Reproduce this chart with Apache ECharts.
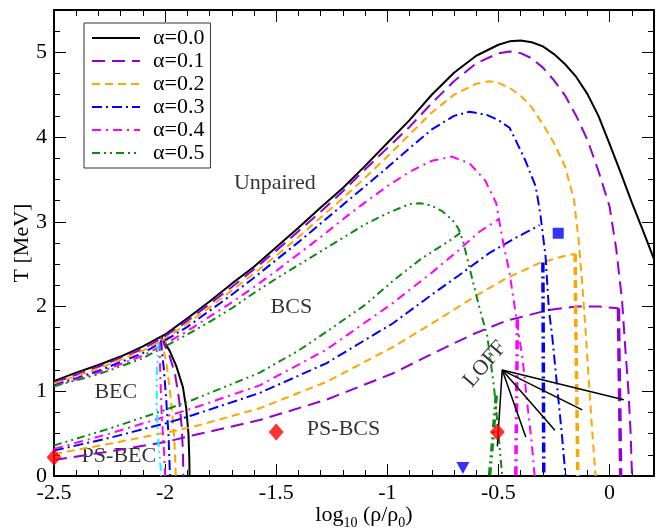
<!DOCTYPE html>
<html>
<head>
<meta charset="utf-8">
<script src="https://cdn.jsdelivr.net/npm/echarts@6/dist/echarts.min.js"></script>
<style>
  html, body { margin: 0; padding: 0; background: #fff; }
  #chart { width: 657px; height: 531px; }
</style>
</head>
<body>
<div id="chart"></div>
<script>
// legend names
const names = ['α=0.0', 'α=0.1', 'α=0.2', 'α=0.3', 'α=0.4', 'α=0.5'];

// critical temperature curves [log10(rho/rho0), T]
const tc00 = [[-2.5,1.12],[-2.4,1.22],[-2.3,1.31],[-2.2,1.41],[-2.1,1.53],[-2.0,1.67],[-1.9,1.86],[-1.8,2.06],[-1.7,2.27],[-1.6,2.47],[-1.5,2.70],[-1.4,2.93],[-1.3,3.17],[-1.2,3.40],[-1.1,3.66],[-1.0,3.93],[-0.9,4.20],[-0.8,4.50],[-0.7,4.76],[-0.6,4.96],[-0.5,5.09],[-0.45,5.13],[-0.4,5.14],[-0.35,5.12],[-0.3,5.07],[-0.25,4.98],[-0.2,4.86],[-0.15,4.71],[-0.1,4.51],[-0.05,4.25],[0.0,3.92],[0.05,3.58],[0.1,3.23],[0.15,2.9],[0.2,2.56]];
const tc01 = [[-2.5,1.10],[-2.3,1.29],[-2.1,1.50],[-2.0,1.65],[-1.9,1.83],[-1.8,2.03],[-1.7,2.23],[-1.6,2.44],[-1.5,2.66],[-1.4,2.89],[-1.3,3.12],[-1.2,3.36],[-1.1,3.62],[-1.0,3.87],[-0.9,4.12],[-0.8,4.40],[-0.7,4.66],[-0.6,4.87],[-0.5,4.99],[-0.45,5.01],[-0.4,4.99],[-0.35,4.93],[-0.3,4.82],[-0.25,4.67],[-0.2,4.49],[-0.15,4.25],[-0.1,3.97],[-0.05,3.60],[0.0,3.18],[0.03,2.68],[0.056,2.08],[0.071,1.5],[0.085,1.0],[0.095,0.5],[0.101,0]];
const tc02 = [[-2.5,1.09],[-2.3,1.27],[-2.1,1.48],[-2.0,1.62],[-1.9,1.80],[-1.8,1.99],[-1.7,2.19],[-1.6,2.39],[-1.5,2.60],[-1.4,2.82],[-1.3,3.05],[-1.2,3.28],[-1.1,3.52],[-1.0,3.77],[-0.9,4.03],[-0.8,4.29],[-0.7,4.50],[-0.6,4.63],[-0.54,4.66],[-0.5,4.64],[-0.45,4.58],[-0.4,4.49],[-0.35,4.35],[-0.3,4.15],[-0.25,3.93],[-0.2,3.65],[-0.16,3.26],[-0.14,2.8],[-0.124,2.31],[-0.108,1.72],[-0.095,1.2],[-0.08,0.6],[-0.063,0]];
const tc03 = [[-2.5,1.07],[-2.3,1.24],[-2.1,1.45],[-2.0,1.60],[-1.9,1.76],[-1.8,1.95],[-1.7,2.14],[-1.6,2.34],[-1.5,2.55],[-1.4,2.76],[-1.3,2.98],[-1.2,3.20],[-1.1,3.42],[-1.0,3.64],[-0.9,3.87],[-0.8,4.09],[-0.7,4.25],[-0.63,4.30],[-0.55,4.26],[-0.5,4.20],[-0.45,4.11],[-0.42,3.95],[-0.38,3.73],[-0.333,3.42],[-0.322,3.26],[-0.31,3.06],[-0.288,2.59],[-0.273,1.96],[-0.258,1.65],[-0.245,1.3],[-0.23,0.9],[-0.215,0.5],[-0.198,0]];
const tc04 = [[-2.5,1.06],[-2.3,1.22],[-2.1,1.42],[-2.0,1.56],[-1.9,1.71],[-1.8,1.88],[-1.7,2.05],[-1.6,2.23],[-1.5,2.42],[-1.4,2.62],[-1.3,2.82],[-1.2,3.03],[-1.1,3.23],[-1.0,3.42],[-0.9,3.59],[-0.8,3.72],[-0.71,3.77],[-0.63,3.69],[-0.56,3.49],[-0.51,3.22],[-0.497,3.02],[-0.475,2.7],[-0.452,2.43],[-0.43,2.05],[-0.41,1.7],[-0.39,1.35],[-0.37,0.85],[-0.35,0.38],[-0.337,0]];
const tc05 = [[-2.5,1.06],[-2.3,1.20],[-2.1,1.39],[-2.0,1.53],[-1.9,1.67],[-1.8,1.82],[-1.7,1.98],[-1.6,2.16],[-1.5,2.33],[-1.4,2.49],[-1.3,2.65],[-1.2,2.81],[-1.1,2.97],[-1.0,3.10],[-0.9,3.21],[-0.85,3.22],[-0.8,3.19],[-0.75,3.12],[-0.707,3.02],[-0.68,2.92],[-0.66,2.78],[-0.62,2.35],[-0.585,1.98],[-0.55,1.65],[-0.52,1.05],[-0.5,0.5],[-0.483,0]];

// BEC / BCS boundaries near log10(rho/rho0) = -2
const bec00 = [[-2.02,1.65],[-1.98,1.48],[-1.95,1.30],[-1.92,1.05],[-1.905,0.8],[-1.895,0.5],[-1.891,0.2],[-1.89,0]];
const bec01 = [[-2.02,1.64],[-1.98,1.42],[-1.955,1.2],[-1.937,0.9],[-1.926,0.6],[-1.92,0.3],[-1.918,0]];
const bec02 = [[-2.02,1.62],[-1.995,1.35],[-1.978,1.0],[-1.963,0.6],[-1.956,0.3],[-1.952,0]];
const bec03 = [[-2.02,1.60],[-2.005,1.25],[-1.995,0.9],[-1.985,0.5],[-1.978,0]];
const bec04 = [[-2.025,1.58],[-2.022,1.2],[-2.015,0.7],[-2.005,0.3],[-2.0,0]];
const bec05 = [[-2.03,1.57],[-2.037,1.2],[-2.038,0.8],[-2.03,0.4],[-2.017,0]];

// phase separation boundaries
const ps01 = [[-2.5,0.19],[-2.25,0.29],[-2.0,0.40],[-1.874,0.48],[-1.574,0.66],[-1.275,0.90],[-0.976,1.21],[-0.8,1.44],[-0.617,1.67],[-0.467,1.83],[-0.273,1.96],[-0.153,2.0],[-0.05,2.0],[0.04,1.98]];
const ps02 = [[-2.5,0.26],[-2.25,0.38],[-2.0,0.51],[-1.874,0.58],[-1.574,0.80],[-1.275,1.11],[-0.976,1.52],[-0.75,1.88],[-0.6,2.13],[-0.467,2.33],[-0.318,2.51],[-0.2,2.60],[-0.155,2.62]];
const ps03 = [[-2.5,0.30],[-2.25,0.45],[-2.0,0.62],[-1.874,0.72],[-1.574,0.98],[-1.275,1.33],[-0.976,1.80],[-0.8,2.14],[-0.677,2.37],[-0.542,2.63],[-0.43,2.80],[-0.315,2.96]];
const ps04 = [[-2.5,0.32],[-2.25,0.50],[-2.0,0.70],[-1.874,0.80],[-1.574,1.07],[-1.275,1.49],[-0.976,2.04],[-0.8,2.40],[-0.677,2.67],[-0.587,2.88],[-0.5,3.03]];
const ps05 = [[-2.5,0.36],[-2.25,0.56],[-2.0,0.78],[-1.874,0.90],[-1.574,1.22],[-1.4,1.48],[-1.275,1.70],[-1.1,2.02],[-0.976,2.30],[-0.85,2.56],[-0.707,2.80],[-0.672,2.87]];

// LOFF boundaries (thick)
const lo01 = [[0.04,1.98],[0.042,1.5],[0.046,0.8],[0.05,0]];
const lo02 = [[-0.155,2.62],[-0.152,1.8],[-0.147,0.9],[-0.143,0]];
const lo03 = [[-0.30,2.52],[-0.298,1.3],[-0.296,0]];
const lo04 = [[-0.415,1.85],[-0.418,0.9],[-0.422,0]];
const lo05 = [[-0.51,0.95],[-0.525,0.45],[-0.54,0]];

// markers
const diamonds = [[-2.5,0.22],[-1.5,0.52],[-0.505,0.52]];
const squares = [[-0.231,2.865]];
const triangles = [[-0.66,0.095]];

// LOFF pointer
const loffHub = [-0.483,1.25];
const loffTips = [[-0.505,0.35],[-0.377,0.46],[-0.246,0.54],[-0.123,0.78],[0.064,0.90]];

// region labels
const regionLabels = [['Unpaired',-1.506,3.46],['BCS',-1.432,1.99],['BEC',-2.222,0.99],['PS-BEC',-2.208,0.23],['PS-BCS',-1.197,0.555]];
const loffLabel = ['LOFF',-0.56,1.32];

const colors = ['#000000','#9400d3','#ffa500','#0000ff','#ff00ff','#0b8b0b'];
const dashes = ['solid',[13,7],[8,5],[10,4,2,4],[9,5,2,5],[8,4,2,4,2,4]];
const serif = 'Liberation Serif';

function curve(name, data, i, width) {
    return {
        type: 'line', name: name, data: data,
        symbol: 'none', showSymbol: false, silent: true,
        lineStyle: { color: colors[i], type: dashes[i], width: width },
        itemStyle: { color: colors[i] }
    };
}

let series = [];
const tcs = [tc00, tc01, tc02, tc03, tc04, tc05];
const becs = [bec00, bec01, bec02, bec03, bec04];
const pss = [null, ps01, ps02, ps03, ps04, ps05];
const los = [null, lo01, lo02, lo03, lo04, lo05];
for (let i = 0; i < 6; i++) {
    series.push(curve(names[i], tcs[i], i, 2));
    if (becs[i]) series.push(curve(names[i], becs[i], i, 2));
    if (pss[i]) series.push(curve(names[i], pss[i], i, 2));
    if (los[i]) series.push(curve(names[i], los[i], i, 3.5));
}
// cyan boundary
series.push({
    type: 'line', name: 'cyan', data: bec05, symbol: 'none', silent: true,
    lineStyle: { color: '#00ffff', type: [8,4,2,4,2,4], width: 2 }
});
// LOFF pointer lines
loffTips.forEach(function (t) {
    series.push({
        type: 'line', name: 'loff', data: [loffHub, t], symbol: 'none', silent: true,
        lineStyle: { color: '#000', width: 1.5 }
    });
});
series.push({ type: 'scatter', name: 'diamond', data: diamonds, symbol: 'diamond', symbolSize: [15,17], itemStyle: { color: '#ff0000' }, clip: false, z: 5 });
series.push({ type: 'scatter', name: 'square', data: squares, symbol: 'rect', symbolSize: 11, itemStyle: { color: '#0000ff' }, clip: false, z: 5 });
series.push({ type: 'scatter', name: 'triangle', data: triangles, symbol: 'triangle', symbolRotate: 180, symbolSize: [13,12], itemStyle: { color: '#0000ff' }, clip: false, z: 5 });
series.push({
    type: 'scatter', name: 'labels', silent: true, clip: false,
    data: regionLabels.map(function (r) { return { value: [r[1], r[2]], name: r[0] }; }),
    symbolSize: 1, itemStyle: { color: 'rgba(0,0,0,0)' },
    label: { show: true, position: 'inside', formatter: '{b}', fontFamily: serif, fontSize: 22, color: '#000' }
});
series.push({
    type: 'scatter', name: 'loffText', silent: true, clip: false,
    data: [{ value: [loffLabel[1], loffLabel[2]], name: loffLabel[0] }],
    symbolSize: 1, itemStyle: { color: 'rgba(0,0,0,0)' },
    label: { show: true, position: 'inside', formatter: '{b}', rotate: 49, fontFamily: serif, fontSize: 22, color: '#000' }
});

const tickFont = { fontFamily: serif, fontSize: 22, color: '#000' };
function xAx(pos, interval, len, main) {
    return {
        type: 'value', min: -2.5, max: 0.2, interval: interval, position: pos,
        axisLine: { show: main, onZero: false, lineStyle: { color: '#000', width: 2 } },
        axisTick: { inside: true, length: len, lineStyle: { color: '#000', width: 1 } },
        axisLabel: (main && pos === 'bottom') ? Object.assign({ margin: 6, formatter: function (v) { return Math.abs(v - 0.2) < 1e-6 ? '' : String(v); } }, tickFont) : { show: false },
        splitLine: { show: false }
    };
}
function yAx(pos, interval, len, main) {
    return {
        type: 'value', min: 0, max: 5.5, interval: interval, position: pos,
        axisLine: { show: main, onZero: false, lineStyle: { color: '#000', width: 2 } },
        axisTick: { inside: true, length: len, lineStyle: { color: '#000', width: 1 } },
        axisLabel: (main && pos === 'left') ? Object.assign({ margin: 7, formatter: function (v) { return Math.abs(v - 5.5) < 1e-6 ? '' : String(v); } }, tickFont) : { show: false },
        splitLine: { show: false }
    };
}

let xAxes = [xAx('bottom', 0.5, 12, true), xAx('bottom', 0.1, 6, false), xAx('top', 0.5, 12, true), xAx('top', 0.1, 6, false)];
xAxes[0].name = 'log{s|10} (ρ/ρ{s|0})';
xAxes[0].nameLocation = 'middle';
xAxes[0].nameGap = 24;
xAxes[0].nameMoveOverlap = false;
xAxes[0].nameTextStyle = { fontFamily: serif, fontSize: 22, color: '#000', lineHeight: 30, padding: [0, 0, 0, 20],
    rich: { s: { fontFamily: serif, fontSize: 14, color: '#000', verticalAlign: 'bottom', lineHeight: 30 } } };
let yAxes = [yAx('left', 1, 12, true), yAx('left', 0.25, 6, false), yAx('right', 1, 12, true), yAx('right', 0.25, 6, false)];
yAxes[0].name = 'T [MeV]';
yAxes[0].nameLocation = 'middle';
yAxes[0].nameGap = 21;
yAxes[0].nameMoveOverlap = false;
yAxes[0].nameTextStyle = { fontFamily: serif, fontSize: 22, color: '#000' };

let myChart = echarts.init(document.getElementById('chart'));
let option = {
    animation: false,
    backgroundColor: '#fff',
    grid: { left: 54, right: 3, top: 10, bottom: 55, containLabel: false, outerBoundsMode: 'none' },
    legend: {
        data: names, orient: 'vertical', left: 84, top: 23,
        itemWidth: 48, itemHeight: 12, itemGap: 1,
        padding: [4, 6, 4, 7], borderColor: '#333', borderWidth: 1,
        selectedMode: false,
        itemStyle: { color: 'rgba(0,0,0,0)', borderWidth: 0, opacity: 0 },
        textStyle: { fontFamily: serif, fontSize: 22, color: '#000', lineHeight: 22, padding: [0, 0, 0, 8] }
    },
    xAxis: xAxes,
    yAxis: yAxes,
    series: series
};
option && myChart.setOption(option);
</script>
</body>
</html>
